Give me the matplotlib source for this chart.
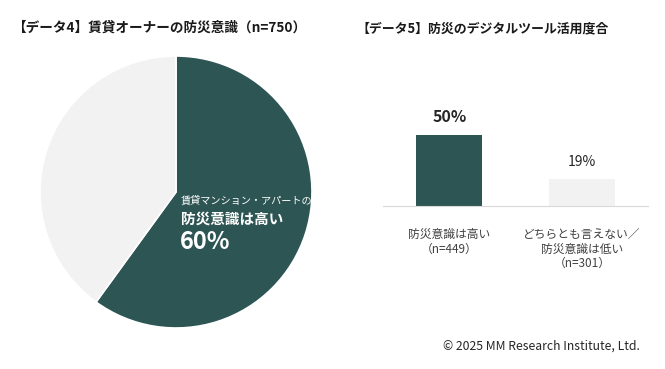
import matplotlib
matplotlib.use("Agg")
import matplotlib.pyplot as plt

plt.rcParams['font.family'] = ['Noto Sans CJK JP', 'DejaVu Sans']

# データ
pie_labels = ['防災意識は高い', 'その他']
pie_values = [60, 40]

bar_labels = ['防災意識は高い\n（n=449）', 'どちらとも言えない／\n防災意識は低い\n（n=301）']
bar_values = [50, 19]

dark = '#2d5554'
light = '#f2f2f2'

W, H = 665, 369
fig = plt.figure(figsize=(W / 100, H / 100), dpi=100)


def px(x, y):
    return x / W, 1 - y / H


# 円グラフ
ax1 = fig.add_axes([40 / W, (H - 328) / H, 272 / W, 272 / H])
ax1.pie(pie_values, colors=[dark, light], startangle=90, counterclock=False,
        wedgeprops=dict(linewidth=1.2, edgecolor='white'))
ax1.set_xlim(-1, 1)
ax1.set_ylim(-1, 1)
ax1.set_aspect('equal')
ax1.axis('off')

fig.text(*px(181, 201), '賃貸マンション・アパートの', color='white', fontsize=7.3,
         ha='left', va='center')
fig.text(*px(181, 219), '防災意識は高い', color='white', fontsize=10.5,
         fontweight='bold', ha='left', va='center')
fig.text(*px(180, 242), f'{pie_values[0]}%', color='white', fontsize=17,
         fontweight='bold', ha='left', va='center')

# 棒グラフ
ax2 = fig.add_axes([383 / W, (H - 206) / H, 265 / W, 85 / H])
x = range(len(bar_values))
ax2.bar(x, bar_values, width=0.5, color=[dark, light])
ax2.set_xlim(-0.5, 1.5)
ax2.set_ylim(0, 60)
for s in ['top', 'right', 'left']:
    ax2.spines[s].set_visible(False)
ax2.spines['bottom'].set_color('#d9d9d9')
ax2.set_yticks([])
ax2.set_xticks([])

for i, v in enumerate(bar_values):
    ax2.annotate(f'{v}%', (i, v), xytext=(0, 7), textcoords='offset points',
                 ha='center', va='bottom', fontsize=11.5 if i == 0 else 10,
                 fontweight='bold' if i == 0 else 'normal', color='#262626')
    ax2.annotate(bar_labels[i], (i, 0), xytext=(0, -16), textcoords='offset points',
                 ha='center', va='top', fontsize=8.5, color='#404040',
                 linespacing=1.15)

# タイトル
fig.text(*px(12, 28), '【データ4】賃貸オーナーの防災意識（n=750）', fontsize=9.8,
         fontweight='bold', ha='left', va='center', color='#1a1a1a')
fig.text(*px(356, 28), '【データ5】防災のデジタルツール活用度合', fontsize=9.3,
         fontweight='bold', ha='left', va='center', color='#1a1a1a')

fig.text(*px(640, 346), '© 2025 MM Research Institute, Ltd.', fontsize=8.8,
         ha='right', va='center', color='#262626')

fig.savefig('out.png', dpi=100)
